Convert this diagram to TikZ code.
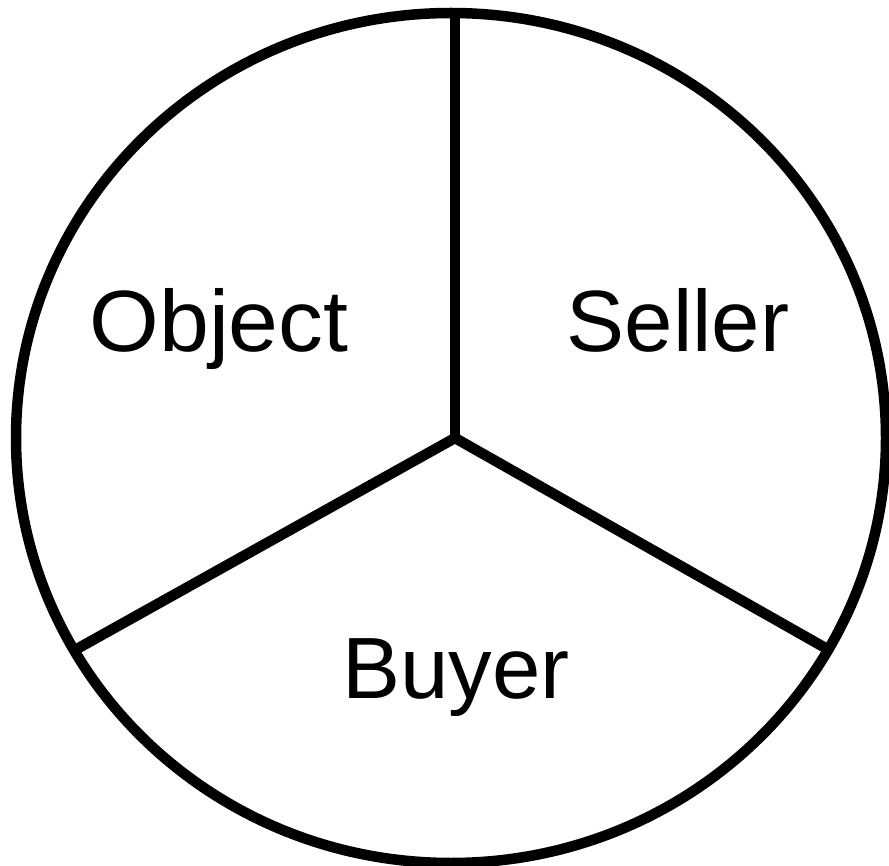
\documentclass[tikz,border=0pt]{standalone}
\usepackage{fontspec}
\setmainfont{Liberation Sans}
\begin{document}
\begin{tikzpicture}[x=1pt,y=-1pt,
  stroke/.style={line width=10.5pt,black},
  label/.style={font=\fontsize{87}{87}\selectfont,inner sep=0pt,anchor=base}]
\useasboundingbox (0,0) rectangle (889,866);
\draw[stroke] (451,438) ellipse [x radius=435, y radius=425];
\coordinate (hub) at (455,438);
\coordinate (top) at (455,13);
\coordinate (left) at (75,650);
\coordinate (right) at (829,650);
\draw[stroke] (hub) -- (top);
\draw[stroke] (hub) -- (left);
\draw[stroke] (hub) -- (right);
\node[label,xscale=1.03] (object) at (219,352) {Object};
\node[label] (seller) at (678,352) {Seller};
\node[label] (buyer) at (456,698) {Buyer};
\end{tikzpicture}
\end{document}
